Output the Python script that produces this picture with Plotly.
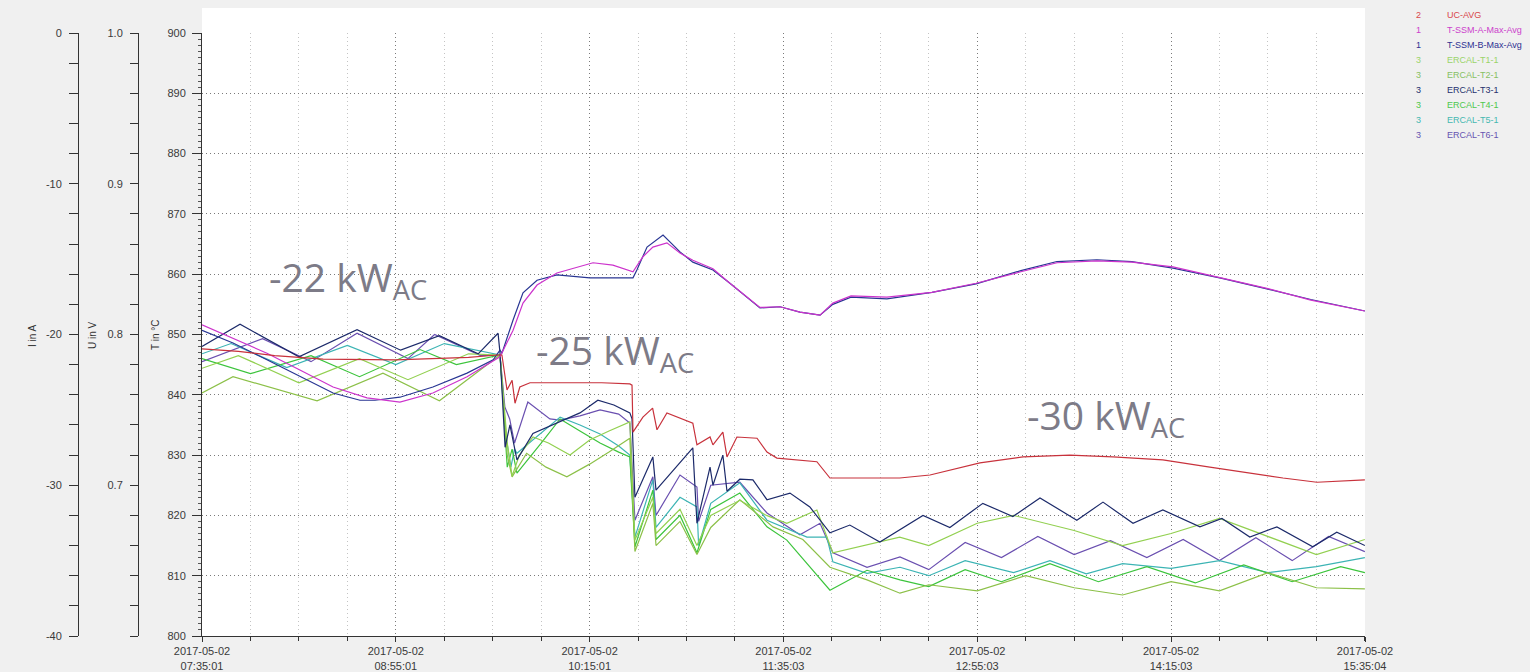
import pandas as pd
import plotly.graph_objects as go

START = pd.Timestamp("2017-05-02 07:35:01")
END = pd.Timestamp("2017-05-02 15:35:04")

# ---- measured channels: time in minutes after START, temperature in °C ----
uc_t = [0, 15, 30, 50, 80, 110, 122, 123.8, 125.9, 128, 129.2, 131.2, 135.4, 150, 165, 176.6,
        177.5, 177.9, 182, 186, 187.8, 191.9, 202.6, 204.3, 209.7, 210.9, 215, 216.7, 220.8,
        229.1, 233.2, 237.3, 253.8, 259.2, 288, 300.5, 321.1, 338.9, 358.2, 376, 396.6, 416,
        432.5, 446.2, 460.2, 479.2, 480]
uc_v = [847.6, 847.2, 846.5, 845.9, 845.8, 846.2, 846.6, 846.6, 840.8, 842.4, 838.6, 841.3, 842.0,
        842.0, 842.0, 841.8, 841.6, 833.8, 836.3, 837.8, 834.2, 837.0, 835.3, 831.7, 833.0, 831.7,
        833.8, 829.7, 833.0, 832.8, 830.5, 829.5, 828.9, 826.2, 826.2, 826.7, 828.7, 829.7, 830.0,
        829.7, 829.2, 828.0, 827.0, 826.2, 825.5, 825.9, 825.9]

ssm_a_t = [0, 12.8, 26.8, 40.4, 54.1, 68.1, 81.7, 95.3, 109.4, 123, 128.4, 132.5, 138.3, 146.5,
           161.4, 169.6, 177.9, 182, 186.1, 191.9, 197.3, 202.6, 210.9, 217.9, 224.9, 230.3,
           238.6, 246.8, 255.1, 260.4, 267.9, 282.7, 301.3, 319.5, 338, 352.9, 369.4, 383.8,
           400.8, 421, 439.1, 457.7, 480]
ssm_a_v = [851.6, 849.4, 846.9, 844.1, 841.3, 839.5, 838.8, 840.3, 843.0, 846.3, 850.7, 855.2, 858.2,
           860.2, 861.9, 861.5, 860.4, 862.9, 864.5, 865.2, 863.5, 862.3, 860.9, 858.5, 856.2,
           854.5, 854.6, 853.7, 853.2, 855.2, 856.4, 856.2, 857.0, 858.5, 860.4, 861.9, 862.2,
           862.0, 861.2, 859.4, 857.7, 855.7, 853.9]

ssm_b_t = [0, 12.8, 26.8, 40.4, 54.1, 65.2, 71.4, 81.7, 95.3, 109.4, 120.2, 123, 123.8, 128.4,
           132.5, 138.3, 146.5, 160.1, 177.9, 179.5, 183.7, 190.3, 197.3, 202.6, 210.9, 217.9,
           224.9, 230.3, 238.6, 246.8, 255.1, 260.4, 267.9, 282.7, 301.3, 319.5, 338, 352.9,
           369.4, 383.8, 400.8, 421, 439.1, 457.7, 480]
ssm_b_v = [850.7, 848.6, 845.8, 843.0, 840.3, 839.1, 839.1, 839.6, 841.3, 843.6, 845.8, 847.4, 846.9,
           852.4, 856.9, 859.0, 859.9, 859.4, 859.4, 860.7, 864.5, 866.5, 863.7, 862.0, 860.7,
           858.5, 856.2, 854.4, 854.6, 853.7, 853.2, 855.0, 856.2, 855.9, 857.0, 858.4, 860.6,
           862.1, 862.4, 862.1, 861.0, 859.3, 857.6, 855.8, 853.9]

t1_t = [0, 15, 40, 65, 85, 110, 123, 126, 128, 131, 136.6, 143, 151.9, 160, 168, 176.6, 178.7,
        186.1, 187.4, 197.3, 204.3, 210, 222, 233, 241.4, 253.8, 260.4, 288, 300, 320, 335, 360,
        380, 400, 420, 440, 460, 480]
t1_v = [844.4, 846.5, 842.0, 846.0, 842.5, 846.8, 846.6, 832.0, 826.5, 830.0, 833.0, 832.0, 830.0,
        832.5, 834.0, 835.5, 815.9, 823.0, 817.0, 821.0, 815.0, 820.0, 822.5, 820.0, 818.7, 820.9,
        813.8, 816.4, 815.0, 818.7, 820.0, 817.5, 815.0, 817.0, 819.5, 816.5, 813.5, 816.0]

t2_t = [0, 12.8, 47.5, 74.7, 98, 123, 126, 128, 134, 142, 150.6, 160, 168, 176.6, 178.7, 186.1,
        187.4, 197.3, 204.3, 210, 222, 235.7, 248, 259.2, 274.5, 288.1, 300, 320, 340, 360, 380,
        400, 420, 440, 460, 480]
t2_v = [840.3, 843.0, 839.0, 843.6, 839.0, 846.6, 830.0, 826.4, 830.3, 828.0, 826.4, 828.5, 830.5,
        832.8, 814.0, 822.0, 815.0, 819.0, 813.5, 818.0, 822.6, 818.1, 816.0, 811.4, 809.3, 807.1,
        808.5, 807.5, 810.0, 808.0, 806.8, 809.0, 807.5, 810.5, 808.0, 807.8]

t3_t = [0, 15.7, 40, 64, 82, 98, 114, 122.2, 123, 125.1, 127.1, 130, 136.6, 147.8, 156, 163.4,
        170, 176.6, 177.5, 178.7, 186.1, 187.4, 202.6, 204.3, 209.7, 210.9, 215, 216.7, 222,
        227.4, 233.2, 242.7, 250.9, 259.2, 267.4, 279.8, 297.6, 308.7, 322.3, 334.7, 345.9,
        361.1, 371.9, 384.3, 396.6, 411.9, 421, 432.5, 443.7, 458.5, 468.4, 480]
t3_v = [848.0, 851.7, 846.3, 850.8, 847.4, 849.8, 846.8, 850.2, 847.0, 831.3, 835.0, 829.2, 833.6,
        835.5, 837.0, 839.1, 838.3, 837.0, 836.0, 823.0, 829.7, 824.2, 831.2, 818.7, 828.0, 825.0,
        830.0, 824.0, 826.0, 825.9, 822.6, 823.7, 821.4, 817.1, 818.4, 815.6, 820.0, 818.0, 822.0,
        819.8, 822.9, 819.2, 822.2, 818.7, 820.9, 818.1, 819.5, 816.4, 818.1, 814.8, 817.2, 815.0]

t4_t = [0, 20, 45, 65, 90, 105, 123, 126, 128, 130, 140, 147.8, 156, 164.3, 172, 176.6, 178.7,
        186.1, 187.4, 197.3, 204.3, 210, 222, 233.2, 241.4, 259.2, 274.5, 288.1, 300, 315, 330,
        350, 370, 390, 410, 430, 450, 470, 480]
t4_v = [846.0, 843.5, 846.5, 843.0, 847.5, 845.0, 846.6, 828.0, 831.0, 827.0, 832.0, 836.0, 834.0,
        832.0, 830.5, 829.7, 814.8, 824.2, 816.0, 820.0, 813.8, 821.0, 823.7, 818.1, 815.9, 807.6,
        810.9, 809.3, 808.2, 811.0, 809.0, 812.0, 809.0, 811.5, 808.8, 811.8, 809.0, 811.5, 810.5]

t5_t = [0, 12, 35, 60, 80, 100, 123, 125.5, 127.5, 129, 130, 138, 147.8, 156, 164.3, 172, 176.6,
        178.7, 186.1, 187.4, 197.3, 204.3, 205, 210, 222, 233.2, 249.7, 257.9, 260.4, 274.5,
        288.1, 300, 315, 335, 350, 365, 380, 400, 420, 440, 460, 480]
t5_v = [846.8, 848.5, 844.5, 848.2, 845.0, 848.5, 846.6, 833.0, 828.0, 831.0, 830.3, 833.0, 836.3,
        835.0, 833.5, 831.5, 830.0, 816.4, 825.9, 818.0, 823.0, 821.4, 815.0, 822.0, 825.4, 819.2,
        816.4, 816.4, 812.3, 810.4, 811.4, 810.0, 812.5, 810.5, 812.5, 810.3, 812.0, 811.2, 812.5,
        810.5, 811.5, 813.0]

t6_t = [0, 25, 45, 64, 85, 96, 115, 123, 125, 127, 129, 134.5, 143.6, 147.8, 156, 164.3, 172,
        176.6, 178.7, 186.1, 187.4, 197.3, 204.3, 205, 210, 222, 233.2, 246.8, 255.1, 260.4,
        274.5, 288.1, 300, 315, 330, 345, 360, 375, 390, 405, 420, 435, 450, 465, 480]
t6_v = [845.5, 849.3, 845.5, 850.2, 846.0, 850.0, 846.5, 846.6, 838.0, 836.0, 832.0, 838.8, 836.0,
        835.8, 836.5, 837.5, 836.8, 835.3, 819.2, 826.4, 820.0, 826.7, 824.7, 819.0, 825.0, 825.5,
        820.4, 816.8, 818.7, 813.8, 811.4, 813.1, 811.0, 815.5, 813.0, 816.5, 813.5, 815.8, 813.0,
        816.0, 812.5, 816.3, 812.5, 816.5, 814.0]

# ---- legend entries (axis number, name, colour) ----
legend_nums = ["2", "1", "1", "3", "3", "3", "3", "3", "3"]
legend_names = ["UC-AVG", "T-SSM-A-Max-Avg", "T-SSM-B-Max-Avg", "ERCAL-T1-1", "ERCAL-T2-1",
                "ERCAL-T3-1", "ERCAL-T4-1", "ERCAL-T5-1", "ERCAL-T6-1"]
legend_colors = ["#d9474b", "#cc3fcc", "#2e3192", "#9ad46a", "#86c063", "#26306e", "#4dc84d",
                 "#45b8b0", "#6654b0"]
line_colors = ["#c8323c", "#cc33cc", "#283593", "#92d050", "#8cc048", "#1c2a6a", "#3cc43c",
               "#3cb4b4", "#6a4fb0"]

# ---- axis tick labels ----
x_tick_labels = ["2017-05-02<br>07:35:01", "2017-05-02<br>08:55:01", "2017-05-02<br>10:15:01",
                 "2017-05-02<br>11:35:03", "2017-05-02<br>12:55:03", "2017-05-02<br>14:15:03",
                 "2017-05-02<br>15:35:04"]
t_ticks = [800, 810, 820, 830, 840, 850, 860, 870, 880, 890, 900]
i_ticks = [0, -10, -20, -30, -40]
i_tick_text = ["0", "-10", "-20", "-30", "-40"]
u_ticks = [1.0, 0.9, 0.8, 0.7]
u_tick_text = ["1.0", "0.9", "0.8", "0.7"]

# power level labels
power_labels = ["-22 kW<sub>AC</sub>", "-25 kW<sub>AC</sub>", "-30 kW<sub>AC</sub>"]


def to_time(minutes):
    return START + pd.to_timedelta(minutes, unit="min")


series = [
    ("ERCAL-T6-1", t6_t, t6_v, line_colors[8]),
    ("ERCAL-T5-1", t5_t, t5_v, line_colors[7]),
    ("ERCAL-T4-1", t4_t, t4_v, line_colors[6]),
    ("ERCAL-T2-1", t2_t, t2_v, line_colors[4]),
    ("ERCAL-T1-1", t1_t, t1_v, line_colors[3]),
    ("ERCAL-T3-1", t3_t, t3_v, line_colors[5]),
    ("T-SSM-B-Max-Avg", ssm_b_t, ssm_b_v, line_colors[2]),
    ("T-SSM-A-Max-Avg", ssm_a_t, ssm_a_v, line_colors[1]),
    ("UC-AVG", uc_t, uc_v, line_colors[0]),
]

fig = go.Figure()
for name, tt, vv, col in series:
    fig.add_trace(go.Scatter(x=to_time(tt), y=vv, mode="lines", name=name,
                             line=dict(color=col, width=1.2), showlegend=False,
                             hoverinfo="skip"))

W, H = 1530, 672
X0, X1 = 202 / W, 1365 / W
Y0, Y1 = (H - 636) / H, (H - 33) / H

major_x = [START + pd.Timedelta(minutes=80 * k) for k in range(6)] + [END]
minor_x = [START + pd.Timedelta(minutes=20 * k) for k in range(25)]

tick_font = dict(family="Liberation Sans, Arial, sans-serif", size=11, color="#3a3a3a")
GRID_DASH = "1px,3px"

fig.update_layout(
    width=W, height=H, autosize=False,
    margin=dict(l=0, r=0, t=0, b=0, autoexpand=False),
    paper_bgcolor="#f0f0f0", plot_bgcolor="#ffffff",
    xaxis=dict(
        domain=[X0, X1], range=[START, END], type="date", automargin=False,
        tickmode="array", tickvals=major_x, ticktext=x_tick_labels,
        tickfont=tick_font, ticks="outside", ticklen=5, tickcolor="#333333",
        showline=True, linecolor="#333333", linewidth=1,
        showgrid=True, gridcolor="#7a7a7a", griddash=GRID_DASH, gridwidth=1,
        zeroline=False,
        minor=dict(tickmode="array", tickvals=minor_x, ticks="outside", ticklen=4,
                   tickcolor="#333333", showgrid=True, gridcolor="#c4c4c4",
                   griddash=GRID_DASH),
    ),
    yaxis=dict(
        domain=[Y0, Y1], range=[800, 900], automargin=False,
        tickmode="array", tickvals=t_ticks, tickfont=tick_font,
        ticks="outside", ticklen=9, tickcolor="#333333", ticklabelstandoff=4,
        showline=True, linecolor="#333333", linewidth=1,
        showgrid=True, gridcolor="#7a7a7a", griddash=GRID_DASH, zeroline=False,
        minor=dict(dtick=1, tick0=800, ticks="outside", ticklen=3, tickcolor="#555555",
                   showgrid=False),
    ),
    yaxis2=dict(
        overlaying="y", anchor="free", position=78 / W, side="left", automargin=False,
        range=[-40, 0], tickmode="array", tickvals=i_ticks, ticktext=i_tick_text,
        tickfont=tick_font, ticks="outside", ticklen=9, tickcolor="#333333",
        ticklabelstandoff=5, showline=True, linecolor="#333333", showgrid=False,
        zeroline=False,
        minor=dict(dtick=2, tick0=0, ticks="outside", ticklen=9, tickcolor="#333333",
                   showgrid=False),
    ),
    yaxis3=dict(
        overlaying="y", anchor="free", position=138 / W, side="left", automargin=False,
        range=[0.6, 1.0], tickmode="array", tickvals=u_ticks, ticktext=u_tick_text,
        tickfont=tick_font, ticks="outside", ticklen=8, tickcolor="#333333",
        ticklabelstandoff=5, showline=True, linecolor="#333333", showgrid=False,
        zeroline=False,
        minor=dict(dtick=0.02, tick0=0.6, ticks="outside", ticklen=8, tickcolor="#333333",
                   showgrid=False),
    ),
)

# placeholder traces so the current and voltage axes are laid out
fig.add_trace(go.Scatter(x=[None], y=[None], yaxis="y2", showlegend=False, hoverinfo="skip"))
fig.add_trace(go.Scatter(x=[None], y=[None], yaxis="y3", showlegend=False, hoverinfo="skip"))

# white band of the chart area above the top tick
fig.add_shape(type="rect", xref="paper", yref="paper", x0=X0, x1=X1, y0=Y1, y1=(H - 8) / H,
              fillcolor="#ffffff", line=dict(width=0), layer="below")

# axis titles
title_font = dict(family="Liberation Sans, Arial, sans-serif", size=10, color="#333333")
for text, px in [("I in A", 32), ("U in V", 92), ("T in °C", 155)]:
    fig.add_annotation(text=text, x=px / W, y=(H - 335) / H, xref="paper", yref="paper",
                       textangle=-90, showarrow=False, font=title_font,
                       xanchor="center", yanchor="middle")

# legend block (axis number + channel name, in channel colour)
leg_font = dict(family="Liberation Sans, Arial, sans-serif", size=9)
for i, (num, name, col) in enumerate(zip(legend_nums, legend_names, legend_colors)):
    yy = (H - (15 + 15 * i)) / H
    fig.add_annotation(text=num, x=1418 / W, y=yy, xref="paper", yref="paper",
                       showarrow=False, font=dict(leg_font, color=col),
                       xanchor="center", yanchor="middle")
    fig.add_annotation(text=name, x=1445 / W, y=yy, xref="paper", yref="paper",
                       showarrow=False, font=dict(leg_font, color=col),
                       xanchor="left", yanchor="middle")

# operating-point labels
big_font = dict(family="Open Sans, sans-serif", size=39, color="#7d7b87")
for text, px, py in zip(power_labels, [267, 534, 1025], [248, 321, 386]):
    fig.add_annotation(text=text, x=px / W, y=(H - py) / H, xref="paper", yref="paper",
                       showarrow=False, font=big_font, xanchor="left", yanchor="top")

fig.write_html("out.html")
